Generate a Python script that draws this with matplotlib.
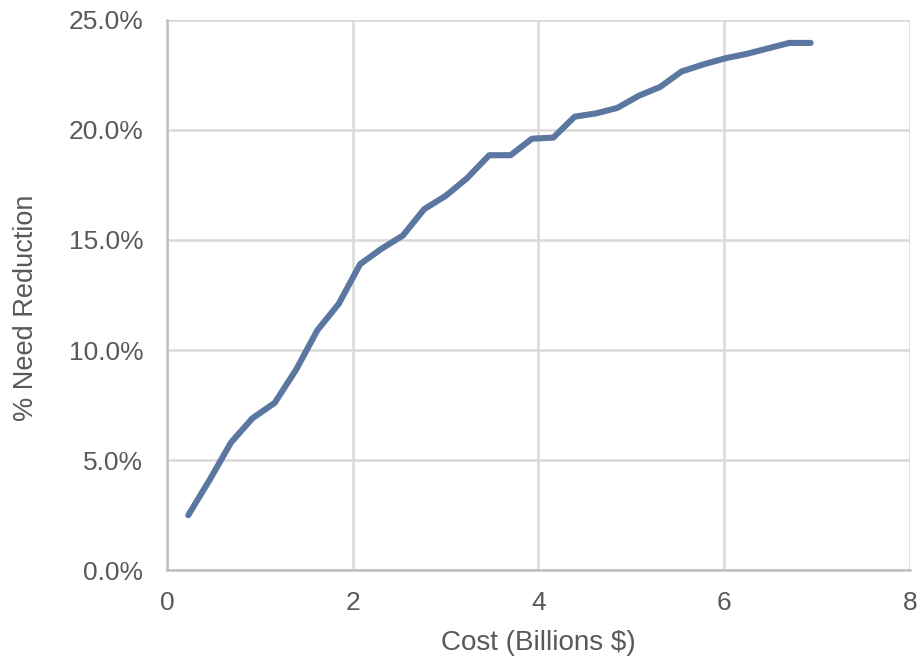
import matplotlib.pyplot as plt
from matplotlib.ticker import FuncFormatter

plt.rcParams['font.family'] = ['Liberation Sans', 'DejaVu Sans']

# Cost in billions of dollars, % need reduction
cost = [0.23, 0.46, 0.69, 0.92, 1.16, 1.39, 1.62, 1.85, 2.08, 2.31,
        2.54, 2.77, 3.00, 3.23, 3.47, 3.70, 3.93, 4.16, 4.39, 4.62,
        4.85, 5.08, 5.31, 5.54, 5.78, 6.01, 6.24, 6.47, 6.70, 6.93]
reduction = [2.5, 4.1, 5.8, 6.9, 7.6, 9.1, 10.9, 12.1, 13.9, 14.6,
             15.2, 16.4, 17.0, 17.8, 18.85, 18.85, 19.6, 19.65, 20.6, 20.75,
             21.0, 21.55, 21.95, 22.65, 22.98, 23.25, 23.45, 23.7, 23.95, 23.95]

x_ticks = [0, 2, 4, 6, 8]
y_ticks = [0, 5, 10, 15, 20, 25]

fig = plt.figure(figsize=(9.22, 6.6), dpi=100)
ax = fig.add_axes([0.181, 0.136, 0.806, 0.834])

ax.plot(cost, reduction, color='#5B77A1', linewidth=4.4,
        solid_capstyle='round', solid_joinstyle='round', zorder=3)

ax.set_xlim(0, 8)
ax.set_ylim(0, 25)
ax.set_xticks(x_ticks)
ax.set_yticks(y_ticks)
ax.yaxis.set_major_formatter(FuncFormatter(lambda v, p: f'{v:.1f}%'))

ax.grid(True, color='#D9D9D9', linewidth=1.8, zorder=0)
ax.set_axisbelow(True)
for s in ['top', 'right']:
    ax.spines[s].set_visible(False)
for s in ['left', 'bottom']:
    ax.spines[s].set_color('#BFBFBF')
    ax.spines[s].set_linewidth(1.8)

ax.tick_params(axis='both', length=0, labelsize=19, labelcolor='#595959')
ax.tick_params(axis='y', pad=17)
ax.tick_params(axis='x', pad=15)

ax.set_xlabel('Cost (Billions $)', fontsize=20, color='#595959', labelpad=11)
ax.set_ylabel('% Need Reduction', fontsize=19.5, color='#595959')
ax.yaxis.set_label_coords(-0.172, 0.477)

fig.savefig('out.png', dpi=100)
